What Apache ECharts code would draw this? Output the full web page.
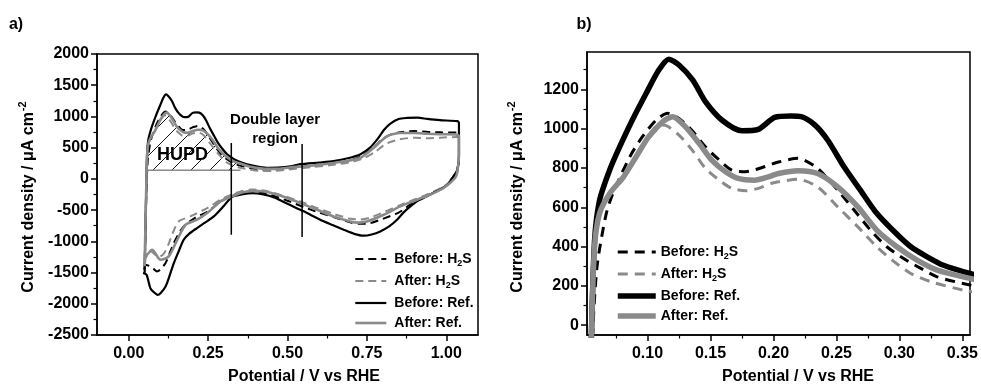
<!DOCTYPE html>
<html lang="en">
<head>
    <meta charset="UTF-8">
    <title>CV before / after H2S</title>
    <script src="https://cdn.jsdelivr.net/npm/echarts@6/dist/echarts.min.js"></script>
    <style>
        html, body { margin: 0; padding: 0; background: #fff; }
        #main { width: 981px; height: 385px; }
    </style>
</head>
<body>
<div id="main"></div>
<script type="text/javascript">
    // anodic (upper) and cathodic (lower) scans, [potential V, current uA/cm2]
    var beforeRefAnodic = [[0.050,-1510],[0.0555,-50],[0.058,430],[0.062,636],[0.070,790],[0.078,908],[0.088,1044],[0.099,1180],[0.109,1298],[0.117,1353],[0.125,1324],[0.136,1247],[0.146,1137],[0.159,1044],[0.175,989],[0.188,996],[0.201,1057],[0.214,1064],[0.222,1061],[0.233,1018],[0.243,942],[0.256,806],[0.269,687],[0.282,569],[0.296,475],[0.309,399],[0.322,348],[0.335,305],[0.356,263],[0.38,225],[0.41,195],[0.44,178],[0.47,180],[0.51,200],[0.54,235],[0.60,262],[0.645,285],[0.69,330],[0.73,395],[0.76,500],[0.782,628],[0.805,790],[0.824,885],[0.85,960],[0.876,976],[0.91,980],[0.94,960],[0.98,940],[1.035,925],[1.04,900]];
    var beforeRefCathodic = [[1.04,700],[1.04,360],[1.035,150],[1.023,40],[1.005,-90],[0.99,-146],[0.965,-210],[0.939,-280],[0.91,-350],[0.887,-440],[0.865,-540],[0.845,-654],[0.82,-760],[0.792,-841],[0.765,-890],[0.740,-910],[0.71,-880],[0.677,-814],[0.64,-735],[0.603,-654],[0.551,-520],[0.50,-400],[0.46,-300],[0.42,-245],[0.39,-230],[0.36,-245],[0.325,-290],[0.30,-430],[0.268,-600],[0.24,-700],[0.215,-787],[0.19,-880],[0.173,-974],[0.158,-1150],[0.142,-1348],[0.128,-1560],[0.116,-1723],[0.10,-1830],[0.091,-1856],[0.078,-1810],[0.068,-1748],[0.056,-1535],[0.045,-1508]];

    var beforeH2SAnodic = [[0.050,-1450],[0.0565,-50],[0.060,300],[0.067,560],[0.0725,670],[0.086,857],[0.096,959],[0.107,1044],[0.116,1078],[0.125,1052],[0.135,993],[0.146,908],[0.157,840],[0.167,789],[0.178,781],[0.19,800],[0.204,830],[0.2195,849],[0.235,798],[0.251,687],[0.264,586],[0.277,484],[0.290,399],[0.303,340],[0.317,289],[0.33,246],[0.356,204],[0.38,175],[0.42,150],[0.46,155],[0.52,180],[0.58,215],[0.645,250],[0.70,300],[0.74,380],[0.775,520],[0.80,640],[0.83,720],[0.86,750],[0.90,765],[0.94,755],[0.98,745],[1.035,740],[1.04,700]];
    var beforeH2SCathodic = [[1.04,400],[1.035,150],[1.02,20],[0.99,-140],[0.94,-270],[0.89,-400],[0.85,-540],[0.80,-640],[0.76,-710],[0.73,-720],[0.70,-700],[0.65,-620],[0.60,-540],[0.55,-450],[0.50,-350],[0.45,-260],[0.40,-200],[0.36,-210],[0.325,-270],[0.29,-360],[0.25,-520],[0.21,-620],[0.173,-761],[0.155,-900],[0.142,-1027],[0.128,-1200],[0.116,-1348],[0.10,-1450],[0.089,-1482],[0.078,-1440],[0.068,-1402],[0.055,-1380],[0.048,-1450]];

    var afterH2SAnodic = [[0.050,-1300],[0.0555,-50],[0.058,400],[0.062,560],[0.070,665],[0.081,750],[0.091,850],[0.101,950],[0.108,1000],[0.113,1018],[0.125,967],[0.1355,891],[0.146,798],[0.157,738],[0.167,696],[0.178,684],[0.188,696],[0.198,721],[0.204,730],[0.2195,742],[0.235,704],[0.251,602],[0.267,500],[0.282,399],[0.296,322],[0.309,263],[0.325,221],[0.351,178],[0.38,150],[0.42,125],[0.46,130],[0.52,160],[0.58,190],[0.645,225],[0.70,270],[0.74,330],[0.775,430],[0.81,560],[0.85,630],[0.90,660],[0.94,650],[0.98,660],[1.035,670],[1.04,650]];
    var afterH2SCathodic = [[1.04,400],[1.035,100],[1.02,0],[0.99,-130],[0.94,-250],[0.90,-330],[0.855,-420],[0.80,-540],[0.76,-620],[0.73,-650],[0.70,-640],[0.645,-560],[0.59,-460],[0.54,-360],[0.48,-260],[0.43,-190],[0.39,-170],[0.36,-190],[0.325,-250],[0.29,-330],[0.25,-460],[0.194,-601],[0.157,-681],[0.14,-850],[0.125,-1050],[0.11,-1200],[0.095,-1250],[0.08,-1200],[0.068,-1150],[0.055,-1250],[0.048,-1300]];

    var afterRefAnodic = [[0.050,-1400],[0.0555,-50],[0.058,399],[0.062,569],[0.070,670],[0.081,755],[0.091,857],[0.101,959],[0.112,1035],[0.120,1061],[0.130,1010],[0.141,925],[0.151,840],[0.162,781],[0.172,747],[0.185,738],[0.196,755],[0.204,772],[0.2195,786],[0.235,772],[0.251,704],[0.267,602],[0.282,484],[0.298,399],[0.314,331],[0.330,280],[0.356,238],[0.38,200],[0.42,165],[0.46,160],[0.52,190],[0.58,215],[0.645,255],[0.69,290],[0.729,335],[0.771,495],[0.813,681],[0.855,735],[0.90,735],[0.939,724],[0.98,715],[1.034,708],[1.04,680]];
    var afterRefCathodic = [[1.04,400],[1.035,120],[1.028,14],[0.991,-146],[0.95,-250],[0.908,-333],[0.855,-440],[0.803,-574],[0.75,-681],[0.72,-700],[0.698,-681],[0.645,-601],[0.593,-494],[0.54,-386],[0.49,-290],[0.44,-215],[0.40,-190],[0.36,-215],[0.325,-280],[0.289,-360],[0.247,-547],[0.215,-654],[0.179,-734],[0.153,-974],[0.126,-1242],[0.10,-1295],[0.0736,-1135],[0.06,-1200],[0.053,-1242],[0.05,-1400]];

    // annotations in panel a)
    var hupdBase = [[0.059,140],[0.352,140]];
    var dlLine1 = [[0.323,575],[0.323,-894]];
    var dlLine2 = [[0.546,559],[0.546,-931]];

    // tick labels
    var ticksA = [0, 0.25, 0.5, 0.75, 1.0];
    var minorA = [0.125, 0.375, 0.625, 0.875];
    var ticksBx = [0.10, 0.15, 0.20, 0.25, 0.30, 0.35];
    var minorBx = [0.075, 0.125, 0.175, 0.225, 0.275, 0.325];
    var ticksBy = [0, 200, 400, 600, 800, 1000, 1200];
    var minorBy = [100, 300, 500, 700, 900, 1100, 1300];

    var names = ['Before: H2S', 'After: H2S', 'Before: Ref.', 'After: Ref.'];

    var FONT = '"Liberation Sans", Arial, sans-serif';
    var BLACK = '#000';
    var GRAY = '#8a8a8a';

    // hatch pattern for HUPD area
    var hatch = document.createElement('canvas');
    hatch.width = 19; hatch.height = 19;
    var hc = hatch.getContext('2d');
    hc.strokeStyle = '#111';
    hc.lineWidth = 1;
    hc.beginPath();
    hc.moveTo(0, 19); hc.lineTo(19, 0);
    hc.moveTo(-2, 2); hc.lineTo(2, -2);
    hc.moveTo(17, 21); hc.lineTo(21, 17);
    hc.stroke();

    var hupdEdge = [[0.0566, 140]].concat(afterRefAnodic.filter(function (p) {
        return p[0] > 0.057 && p[0] <= 0.352;
    }));
    hupdEdge.push([0.352, 225]);

    var chart = echarts.init(document.getElementById('main'));

    function lab(v) { return v.toFixed(2); }
    function labInt(v) { return String(Math.round(v)); }

    function legendFmt(name) {
        var base = name.replace(/ \([ab]\)$/, '');
        if (base.indexOf('H2S') >= 0) {
            var parts = base.split('H2S');
            return '{t|' + parts[0] + 'H}{s|2}{t|S}';
        }
        return '{t|' + base + '}';
    }

    var legendRich = {
        t: { fontFamily: FONT, fontWeight: 'bold', fontSize: 14, color: '#000', lineHeight: 18 },
        s: { fontFamily: FONT, fontWeight: 'bold', fontSize: 9, color: '#000', lineHeight: 18, verticalAlign: 'bottom', padding: [6, 0, 0, 0] }
    };

    var tickLabel = { color: '#000', fontFamily: FONT, fontWeight: 'bold', fontSize: 16 };
    var axLine = { show: true, onZero: false, lineStyle: { color: '#000', width: 1.5 } };
    var noLine = { show: false, onZero: false };

    function cvSeries(name, anodic, cathodic, color, width, dash) {
        return {
            name: name + ' (a)', type: 'line', xAxisIndex: 0, yAxisIndex: 0,
            data: anodic.concat(cathodic), showSymbol: false, symbol: 'none', smooth: 0.25,
            lineStyle: { color: color, width: width, type: dash || 'solid' },
            itemStyle: { color: color }, silent: true, z: 3
        };
    }

    function zoomSeries(name, anodic, color, width, dash) {
        return {
            name: name + ' (b)', type: 'line', xAxisIndex: 2, yAxisIndex: 1,
            data: anodic, showSymbol: false, symbol: 'none', smooth: 0.25,
            lineStyle: { color: color, width: width, type: dash || 'solid' },
            itemStyle: { color: color }, silent: true, z: 3
        };
    }

    var widthsA = [2, 2, 2.2, 2.6];
    var widthsB = [3, 3, 5.5, 5.5];

    var option = {
        animation: false,
        backgroundColor: '#fff',
        grid: [
            { left: 97, top: 54, width: 381, height: 281, show: true, borderColor: '#000', borderWidth: 1.5 },
            { left: 587, top: 52, width: 386, height: 283, show: true, borderColor: '#000', borderWidth: 1.5 }
        ],
        xAxis: [
            { gridIndex: 0, type: 'value', min: -0.1, max: 1.1, position: 'bottom', axisLine: axLine,
              axisTick: { show: true, length: 6, customValues: ticksA, lineStyle: { color: '#000', width: 1.5 } },
              axisLabel: Object.assign({ customValues: ticksA, formatter: lab, margin: 11 }, tickLabel),
              splitLine: { show: false } },
            { gridIndex: 0, type: 'value', min: -0.1, max: 1.1, position: 'bottom', axisLine: noLine,
              axisTick: { show: true, length: 3.5, customValues: minorA, lineStyle: { color: '#000', width: 1.2 } },
              axisLabel: { show: false }, splitLine: { show: false } },
            { gridIndex: 1, type: 'value', min: 0.052, max: 0.356, position: 'bottom', axisLine: axLine,
              axisTick: { show: true, length: 6, customValues: ticksBx, lineStyle: { color: '#000', width: 1.5 } },
              axisLabel: Object.assign({ customValues: ticksBx, formatter: lab, margin: 11 }, tickLabel),
              splitLine: { show: false } },
            { gridIndex: 1, type: 'value', min: 0.052, max: 0.356, position: 'bottom', axisLine: noLine,
              axisTick: { show: true, length: 3.5, customValues: minorBx, lineStyle: { color: '#000', width: 1.2 } },
              axisLabel: { show: false }, splitLine: { show: false } }
        ],
        yAxis: [
            { gridIndex: 0, type: 'value', min: -2500, max: 2000, interval: 500, position: 'left', axisLine: axLine,
              axisTick: { show: true, length: 6, lineStyle: { color: '#000', width: 1.5 } },
              minorTick: { show: true, splitNumber: 2, length: 3.5, lineStyle: { color: '#000', width: 1.2 } },
              axisLabel: Object.assign({ margin: 8, formatter: labInt }, tickLabel), splitLine: { show: false } },
            { gridIndex: 1, type: 'value', min: -50, max: 1390, position: 'left', axisLine: axLine,
              axisTick: { show: true, length: 6, customValues: ticksBy, lineStyle: { color: '#000', width: 1.5 } },
              axisLabel: Object.assign({ customValues: ticksBy, margin: 8, formatter: labInt }, tickLabel), splitLine: { show: false } },
            { gridIndex: 1, type: 'value', min: -50, max: 1390, position: 'left', axisLine: noLine,
              axisTick: { show: true, length: 3.5, customValues: minorBy, lineStyle: { color: '#000', width: 1.2 } },
              axisLabel: { show: false }, splitLine: { show: false } }
        ],
        legend: [
            { data: names.map(function (n, i) { return { name: n + ' (a)', lineStyle: { width: widthsA[i] } }; }),
              orient: 'vertical', left: 349, top: 247,
              itemWidth: 31, itemHeight: 14, itemGap: 6, selectedMode: false, formatter: legendFmt,
              itemStyle: { opacity: 0 },
              textStyle: { rich: legendRich, padding: [0, 0, 0, 3] } },
            { data: names.map(function (n, i) { return { name: n + ' (b)', lineStyle: { width: widthsB[i] } }; }),
              orient: 'vertical', left: 610, top: 240,
              itemWidth: 38, itemHeight: 14, itemGap: 6, selectedMode: false, formatter: legendFmt,
              itemStyle: { opacity: 0 },
              textStyle: { rich: legendRich } }
        ],
        series: [
            {
                name: 'hupd', type: 'line', xAxisIndex: 0, yAxisIndex: 0, data: hupdEdge,
                showSymbol: false, symbol: 'none', smooth: 0.25, silent: true, z: 1,
                lineStyle: { width: 0, opacity: 0 },
                areaStyle: { origin: 140, color: { image: hatch, repeat: 'repeat' }, opacity: 1 }
            },
            { name: 'base', type: 'line', xAxisIndex: 0, yAxisIndex: 0, data: hupdBase, showSymbol: false,
              symbol: 'none', silent: true, lineStyle: { color: GRAY, width: 1.5 }, z: 2 },
            { name: 'dl1', type: 'line', xAxisIndex: 0, yAxisIndex: 0, data: dlLine1, showSymbol: false,
              symbol: 'none', silent: true, lineStyle: { color: '#000', width: 1.5 }, z: 4 },
            { name: 'dl2', type: 'line', xAxisIndex: 0, yAxisIndex: 0, data: dlLine2, showSymbol: false,
              symbol: 'none', silent: true, lineStyle: { color: '#000', width: 1.5 }, z: 4 },

            cvSeries(names[0], beforeH2SAnodic, beforeH2SCathodic, BLACK, widthsA[0], [8, 5]),
            cvSeries(names[1], afterH2SAnodic, afterH2SCathodic, GRAY, widthsA[1], [8, 5]),
            cvSeries(names[2], beforeRefAnodic, beforeRefCathodic, BLACK, widthsA[2]),
            cvSeries(names[3], afterRefAnodic, afterRefCathodic, GRAY, widthsA[3]),

            zoomSeries(names[0], beforeH2SAnodic, BLACK, widthsB[0], [10, 7]),
            zoomSeries(names[1], afterH2SAnodic, GRAY, widthsB[1], [10, 7]),
            zoomSeries(names[2], beforeRefAnodic, BLACK, widthsB[2]),
            zoomSeries(names[3], afterRefAnodic, GRAY, widthsB[3])
        ]
    };

    chart.setOption(option);

    // text annotations and axis titles
    var pHupd = chart.convertToPixel({ gridIndex: 0 }, [0.169, 388]);
    var pDl = chart.convertToPixel({ gridIndex: 0 }, [0.461, 800]);
    var titleFont = { fontFamily: FONT, fontWeight: 'bold', fill: '#000' };

    function gtext(x, y, text, size, extra) {
        return Object.assign({
            type: 'text', x: x, y: y, silent: true,
            style: Object.assign({ text: text, fontSize: size, align: 'center', verticalAlign: 'middle' }, titleFont)
        }, extra || {});
    }

    var yRich = {
        n: { fontFamily: FONT, fontWeight: 'bold', fontSize: 16, fill: '#000', verticalAlign: 'bottom' },
        s: { fontFamily: FONT, fontWeight: 'bold', fontSize: 11, fill: '#000', verticalAlign: 'bottom', padding: [0, 0, 9, 1] }
    };

    chart.setOption({
        graphic: [
            gtext(16, 25, 'a)', 16),
            gtext(584, 25, 'b)', 16),
            gtext(pHupd[0], pHupd[1], 'HUPD', 18),
            { type: 'text', x: pDl[0], y: pDl[1], silent: true,
              style: Object.assign({ text: 'Double layer\nregion', fontSize: 15, lineHeight: 19, align: 'center', verticalAlign: 'middle' }, titleFont) },
            gtext(304, 377, 'Potential / V vs RHE', 16),
            gtext(798, 377, 'Potential / V vs RHE', 16),
            { type: 'text', x: 27, y: 197, rotation: Math.PI / 2, silent: true,
              style: { text: '{n|Current density / μA cm}{s|-2}', rich: yRich, align: 'center', verticalAlign: 'middle', fill: '#000' } },
            { type: 'text', x: 516, y: 197, rotation: Math.PI / 2, silent: true,
              style: { text: '{n|Current density / μA cm}{s|-2}', rich: yRich, align: 'center', verticalAlign: 'middle', fill: '#000' } }
        ]
    });
</script>
</body>
</html>
